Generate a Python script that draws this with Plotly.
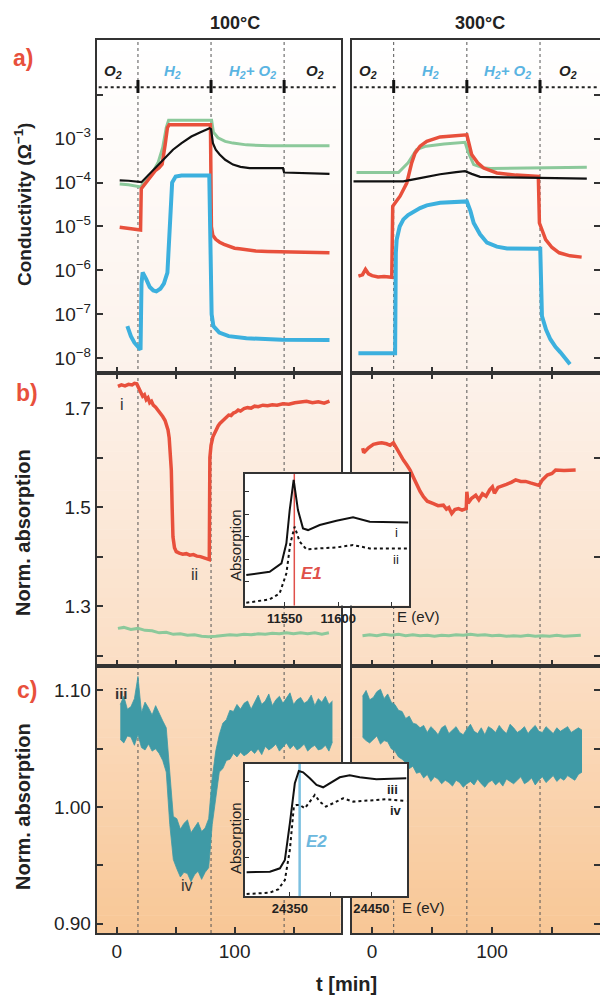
import plotly.graph_objects as go

W, H = 600, 996
FONT = "Liberation Sans, Arial, sans-serif"

# ======================= DATA =======================
phase_t_100 = [18, 80, 142]
phase_t_300 = [18, 79, 140]
phase_labels = ["O<sub>2</sub>", "H<sub>2</sub>", "H<sub>2</sub>+ O<sub>2</sub>", "O<sub>2</sub>"]
phase_label_t_100 = [-3.4, 47.5, 115, 168]
phase_label_t_300 = [-3.3, 49, 113, 163]

# ---- a) conductivity, 100 C ----
a100_black_t = [2.5, 10, 21, 27, 33.6, 40, 47.7, 55, 63.3, 71, 78.8, 80, 81.6, 84, 87.3, 92, 98.6, 105,
                112.7, 130, 141, 142, 160, 180.5]
a100_black = [1.12e-4, 1.10e-4, 1.02e-4, 1.51e-4, 2.34e-4, 3.55e-4, 5.62e-4, 7.94e-4, 1.12e-3, 1.41e-3,
              1.74e-3, 1.66e-3, 7.94e-4, 5.62e-4, 4.37e-4, 3.31e-4, 2.57e-4, 2.29e-4, 2.14e-4, 2.14e-4,
              2.14e-4, 1.70e-4, 1.66e-4, 1.58e-4]
a100_green_t = [2.5, 10, 20.2, 25, 30, 35, 39, 42, 44, 60, 80.5, 82, 85.9, 92, 98.6, 110, 130, 160, 180.5]
a100_green = [9.33e-5, 8.91e-5, 7.94e-5, 1.12e-4, 1.66e-4, 2.82e-4, 6.31e-4, 1.78e-3, 2.63e-3, 2.63e-3,
              2.63e-3, 1.41e-3, 1.05e-3, 8.71e-4, 7.94e-4, 7.24e-4, 6.92e-4, 6.92e-4, 6.92e-4]
a100_red_t = [2.5, 10, 20.2, 20.8, 24, 28, 33, 36, 38.5, 41, 43, 44.5, 60, 79.5, 80.3, 81.5, 84, 87.3, 91,
              95, 100, 104, 110, 118, 128, 140, 150, 160, 170, 180.5]
a100_red = [9.55e-6, 9.12e-6, 8.32e-6, 7.24e-5, 9.33e-5, 1.26e-4, 1.91e-4, 2.19e-4, 2.63e-4, 7.08e-4,
            1.78e-3, 2.09e-3, 2.09e-3, 2.09e-3, 1.0e-5, 6.31e-6, 5.1e-6, 4.37e-6, 3.9e-6, 3.55e-6,
            3.2e-6, 3.09e-6, 2.9e-6, 2.75e-6, 2.7e-6, 2.63e-6, 2.6e-6, 2.57e-6, 2.55e-6, 2.51e-6]
a100_blue_t = [9, 12, 15, 18, 20.2, 21, 22, 25, 28, 31, 33.6, 37, 40, 43, 44.5, 45.5, 47, 50, 55, 78.5,
               79.5, 80.5, 82, 87, 95, 110, 140, 180.5]
a100_blue = [5.37e-8, 3.16e-8, 2.24e-8, 1.78e-8, 1.55e-8, 5.01e-7, 8.91e-7, 6.31e-7, 4.17e-7, 3.47e-7,
             3.31e-7, 3.80e-7, 5.01e-7, 8.91e-7, 6.31e-6, 4.07e-5, 1.0e-4, 1.38e-4, 1.45e-4, 1.45e-4,
             3.16e-6, 1.0e-7, 5.37e-8, 3.80e-8, 3.16e-8, 2.82e-8, 2.63e-8, 2.57e-8]

# ---- a) conductivity, 300 C ----
a300_black_t = [-15.5, 0, 26, 40, 56.7, 70, 77.5, 83, 90, 110, 140, 179]
a300_black = [1.07e-4, 1.07e-4, 1.07e-4, 1.26e-4, 1.55e-4, 1.74e-4, 1.82e-4, 1.58e-4, 1.35e-4, 1.32e-4,
              1.29e-4, 1.23e-4]
a300_green_t = [-13, 22, 30, 37, 45, 60, 77.5, 80, 84.7, 92, 98.6, 120, 150, 179]
a300_green = [1.70e-4, 1.70e-4, 2.82e-4, 5.62e-4, 6.76e-4, 7.59e-4, 8.32e-4, 5.01e-4, 2.57e-4, 2.19e-4,
              2.09e-4, 2.14e-4, 2.19e-4, 2.24e-4]
a300_red_t = [-11.4, -8, -5.5, -3, 0, 5, 10, 16.4, 17.2, 19.2, 23.3, 28.9, 33, 35.8, 40, 45.6, 56.7, 79,
              83, 88, 93, 104, 120, 138.6, 139.5, 144.7, 150, 156, 165, 174.7]
a300_red = [7.41e-7, 7.94e-7, 1.05e-6, 8.32e-7, 7.59e-7, 7.08e-7, 7.24e-7, 6.92e-7, 2.88e-5, 3.47e-5,
            4.90e-5, 9.77e-5, 2.82e-4, 4.68e-4, 6.76e-4, 8.71e-4, 1.10e-3, 1.23e-3, 4.37e-4, 2.82e-4,
            2.14e-4, 1.66e-4, 1.48e-4, 1.38e-4, 1.20e-5, 5.01e-6, 3.31e-6, 2.51e-6, 2.14e-6, 2.0e-6]
a300_blue_t = [-11.4, 19.2, 19.8, 20.5, 23, 26.1, 30, 34.4, 40, 45.6, 56.7, 79, 82, 84.7, 90, 95.8, 104,
               112.5, 140.2, 141.6, 145, 148.6, 153, 157, 165]
a300_blue = [1.29e-8, 1.29e-8, 2.51e-6, 5.01e-6, 1.0e-5, 1.45e-5, 1.82e-5, 2.19e-5, 2.63e-5, 3.02e-5,
             3.47e-5, 3.72e-5, 2.24e-5, 1.20e-5, 6.61e-6, 4.27e-6, 3.47e-6, 3.16e-6, 3.09e-6, 9.12e-8,
             4.47e-8, 2.69e-8, 1.78e-8, 1.35e-8, 7.24e-9]

# ---- b) norm. absorption (E1), 100 C ----
b100_red_t = [1, 4, 7, 10, 13, 15, 17, 19, 20.5, 22, 23.5, 25, 26.5, 28, 29.5, 31, 33, 35, 37, 39, 41, 42.5,
              43.5, 44.5, 45.5, 46.3, 47, 47.7, 49, 50.5, 53, 56, 59, 62, 65, 68, 71, 74, 76.5, 78.5, 79,
              80, 81.6, 83, 84.5, 86, 87.5, 89, 91, 93, 95, 97, 99, 101, 103, 105, 108, 111, 114, 117,
              120, 124, 128, 132, 136, 141, 146, 151, 156, 161, 166, 171, 176, 180.5]
b100_red = [1.744, 1.747, 1.745, 1.748, 1.747, 1.750, 1.749, 1.738, 1.731, 1.724, 1.727, 1.717, 1.721,
            1.711, 1.714, 1.706, 1.702, 1.696, 1.691, 1.683, 1.675, 1.664, 1.656, 1.640, 1.612, 1.575,
            1.500, 1.440, 1.418, 1.410, 1.407, 1.405, 1.406, 1.403, 1.404, 1.401, 1.400, 1.398, 1.397,
            1.394, 1.600, 1.625, 1.642, 1.650, 1.659, 1.664, 1.669, 1.672, 1.678, 1.680, 1.686, 1.685,
            1.690, 1.692, 1.696, 1.694, 1.699, 1.701, 1.700, 1.704, 1.703, 1.706, 1.705, 1.707, 1.706,
            1.709, 1.708, 1.711, 1.713, 1.714, 1.711, 1.713, 1.710, 1.714]
b100_green_t = [1, 6, 12, 18, 24, 30, 36, 42, 48, 54, 60, 66, 72, 78, 84, 90, 96, 102, 108, 114, 120, 126,
                132, 138, 144, 150, 156, 162, 168, 174, 180]
b100_green = [1.255, 1.257, 1.253, 1.255, 1.251, 1.250, 1.246, 1.247, 1.243, 1.244, 1.241, 1.242, 1.239,
              1.238, 1.239, 1.240, 1.242, 1.241, 1.243, 1.242, 1.244, 1.243, 1.245, 1.244, 1.246, 1.244,
              1.246, 1.244, 1.246, 1.243, 1.246]

# ---- b) norm. absorption (E1), 300 C ----
b300_red_t = [-7.8, -7, -3, 1.1, 5, 8, 12, 15, 17.8, 20, 23, 26.1, 29, 31.7, 34.5, 37.2, 40, 42.8, 46,
              51.1, 55, 59.4, 62, 64, 66.4, 69, 72, 75, 77.5, 78.5, 79, 80, 83, 86.4, 89, 92, 95, 98,
              100.3, 102, 105, 108.6, 112, 116, 119.7, 124, 128, 132, 136, 139.2, 142, 146.1, 150, 153,
              160, 165, 169.7]
b300_red = [1.619, 1.610, 1.620, 1.627, 1.629, 1.630, 1.628, 1.625, 1.630, 1.620, 1.607, 1.595, 1.585,
            1.575, 1.560, 1.544, 1.532, 1.521, 1.512, 1.507, 1.503, 1.504, 1.496, 1.499, 1.487, 1.495,
            1.497, 1.494, 1.497, 1.497, 1.531, 1.508, 1.518, 1.524, 1.515, 1.527, 1.522, 1.535, 1.541,
            1.528, 1.540, 1.544, 1.546, 1.550, 1.555, 1.552, 1.552, 1.549, 1.547, 1.544, 1.555, 1.565,
            1.568, 1.575, 1.574, 1.575, 1.575]
b300_green_t = [-8, -2, 4, 10, 16, 22, 28, 34, 40, 46, 52, 58, 64, 70, 76, 82, 88, 94, 100, 106, 112, 118,
                124, 130, 136, 142, 148, 154, 160, 166, 172, 174]
b300_green = [1.240, 1.242, 1.240, 1.243, 1.241, 1.243, 1.240, 1.242, 1.240, 1.241, 1.239, 1.241, 1.240,
              1.242, 1.241, 1.243, 1.241, 1.242, 1.240, 1.241, 1.239, 1.240, 1.239, 1.241, 1.239, 1.240,
              1.239, 1.241, 1.239, 1.240, 1.242, 1.241]

# ---- c) norm. absorption (E2): noisy band, upper / lower envelope ----
c100_t = [3, 6, 9, 12, 15, 18, 21, 24, 27, 30, 33, 36, 39, 42, 45, 48, 51, 54, 57, 60, 63, 66, 69, 72, 75,
          78, 81, 84, 87, 90, 93, 96, 99, 102, 105, 108, 111, 114, 117, 120, 123, 126, 129, 132, 135, 138,
          141, 144, 147, 150, 153, 156, 159, 162, 165, 168, 171, 174, 177, 180, 183]
c100_hi = [1.088, 1.095, 1.084, 1.086, 1.093, 1.112, 1.081, 1.090, 1.085, 1.079, 1.087, 1.080, 1.074,
           1.068, 1.030, 0.992, 0.990, 0.981, 0.986, 0.989, 0.978, 0.983, 0.987, 0.979, 0.982, 0.990,
           1.025, 1.048, 1.062, 1.072, 1.075, 1.083, 1.082, 1.088, 1.084, 1.089, 1.091, 1.084, 1.090,
           1.096, 1.088, 1.091, 1.097, 1.087, 1.092, 1.095, 1.089, 1.093, 1.098, 1.088, 1.092, 1.094,
           1.089, 1.091, 1.096, 1.087, 1.093, 1.090, 1.095, 1.088, 1.091]
c100_lo = [1.058, 1.055, 1.061, 1.060, 1.053, 1.062, 1.051, 1.049, 1.054, 1.048, 1.050, 1.046, 1.040,
           1.030, 0.985, 0.955, 0.947, 0.940, 0.944, 0.943, 0.936, 0.942, 0.945, 0.938, 0.944, 0.948,
           0.985, 1.010, 1.030, 1.033, 1.040, 1.041, 1.046, 1.043, 1.047, 1.044, 1.046, 1.049, 1.046,
           1.050, 1.045, 1.052, 1.049, 1.051, 1.054, 1.048, 1.052, 1.055, 1.050, 1.053, 1.049, 1.051,
           1.054, 1.048, 1.051, 1.053, 1.049, 1.050, 1.053, 1.048, 1.056]
c300_t = [-8, -5, -2, 1, 4, 7, 10, 13, 16, 19, 22, 25, 28, 31, 34, 37, 40, 43, 46, 49, 52, 55, 58, 61, 64,
          67, 70, 73, 76, 79, 82, 85, 88, 91, 94, 97, 100, 103, 106, 109, 112, 115, 118, 121, 124, 127,
          130, 133, 136, 139, 142, 145, 148, 151, 154, 157, 160, 163, 166, 169, 172, 175]
c300_hi = [1.095, 1.100, 1.092, 1.094, 1.099, 1.101, 1.093, 1.097, 1.090, 1.088, 1.083, 1.082, 1.076,
           1.078, 1.072, 1.071, 1.068, 1.070, 1.064, 1.069, 1.066, 1.062, 1.068, 1.070, 1.063, 1.066,
           1.069, 1.064, 1.062, 1.067, 1.071, 1.065, 1.063, 1.068, 1.062, 1.069, 1.067, 1.064, 1.070,
           1.066, 1.063, 1.071, 1.068, 1.064, 1.066, 1.069, 1.063, 1.067, 1.070, 1.065, 1.064, 1.069,
           1.066, 1.063, 1.068, 1.065, 1.067, 1.069, 1.064, 1.066, 1.068, 1.066]
c300_lo = [1.060, 1.057, 1.055, 1.058, 1.061, 1.054, 1.057, 1.056, 1.050, 1.048, 1.043, 1.041, 1.038,
           1.033, 1.035, 1.029, 1.030, 1.025, 1.028, 1.022, 1.026, 1.024, 1.020, 1.023, 1.021, 1.018,
           1.023, 1.021, 1.017, 1.020, 1.022, 1.019, 1.024, 1.020, 1.017, 1.021, 1.023, 1.019, 1.022,
           1.018, 1.024, 1.022, 1.020, 1.023, 1.026, 1.020, 1.022, 1.025, 1.019, 1.023, 1.026, 1.021,
           1.024, 1.027, 1.022, 1.025, 1.023, 1.027, 1.025, 1.023, 1.028, 1.030]

# ---- inset 1: XANES at E1 edge ----
E1 = 11559
ins1_i_E = [11514.2, 11536, 11547, 11551.6, 11554.7, 11558.4, 11562.4, 11567.1, 11571.8, 11582.7,
            11598.3, 11613.8, 11629.4, 11665.3]
ins1_i = [0.259, 0.289, 0.363, 0.541, 0.837, 1.104, 0.837, 0.674, 0.659, 0.704, 0.742, 0.772, 0.733, 0.727]
ins1_ii_E = [11514.2, 11536, 11545.3, 11551.6, 11555.3, 11559.3, 11564, 11570.3, 11582.7, 11598.3,
             11613.8, 11629.4, 11665.3]
ins1_ii = [0.013, 0.043, 0.096, 0.274, 0.541, 0.689, 0.556, 0.487, 0.496, 0.505, 0.526, 0.496, 0.496]

# ---- inset 2: XANES at E2 edge ----
E2 = 24362
ins2_iii_E = [24297.0, 24325.5, 24337.8, 24343.9, 24350, 24356.1, 24361, 24366.3, 24374.5, 24382.7,
              24390.8, 24399, 24411.2, 24423.4, 24435.7, 24456.1, 24492.8]
ins2_iii = [0.302, 0.311, 0.355, 0.465, 0.949, 1.478, 1.641, 1.623, 1.544, 1.456, 1.425, 1.478, 1.557,
            1.584, 1.557, 1.531, 1.544]
ins2_iv_E = [24297.0, 24325.5, 24335.7, 24343.9, 24350, 24354.9, 24358.2, 24362.2, 24368.4, 24374.5,
             24380.6, 24386.7, 24394.1, 24403, 24415.3, 24427.5, 24447.9, 24468.4, 24492.8]
ins2_iv = [0.015, 0.033, 0.077, 0.200, 0.597, 1.170, 1.192, 1.192, 1.148, 1.236, 1.324, 1.236, 1.170,
           1.214, 1.280, 1.236, 1.249, 1.267, 1.244]

# ======================= LAYOUT HELPERS =======================
def px(x):
    return x / W


def py(y):
    return 1 - y / H


COL_L = (96.7, 340.7)
COL_R = (351.7, 600)
ROW_A = (40, 373)
ROW_B = (373, 666)
ROW_C = (666, 933)
INS1 = (245, 409, 474, 605.7)
INS2 = (245, 407.3, 764, 896)

T_RANGE = [-17, 190]
A_RANGE = [-8.34, -0.75]
B_RANGE = [1.179, 1.771]
C_RANGE = [0.892, 1.121]
I1_X = [11513, 11666]
I1_Y = [-0.013, 1.157]
I2_X = [24295, 24494]
I2_Y = [-0.011, 1.733]

RED = "#e8503c"
GREEN = "#8cc99b"
BLUE = "#3cb0de"
BLACK = "#111111"
TEAL = "#3f9aa6"
FRAME = "#333333"
TXT = "#222222"

fig = go.Figure()


def line(x, y, xa, ya, color, width, dash=None):
    fig.add_trace(go.Scatter(x=x, y=y, xaxis=xa, yaxis=ya, mode="lines",
                             line=dict(color=color, width=width, dash=dash), hoverinfo="skip"))


# panel a
line(a100_green_t, a100_green, "x", "y", GREEN, 3)
line(a100_red_t, a100_red, "x", "y", RED, 3.5)
line(a100_blue_t, a100_blue, "x", "y", BLUE, 4)
line(a100_black_t, a100_black, "x", "y", BLACK, 2.2)
line(a300_green_t, a300_green, "x2", "y2", GREEN, 3)
line(a300_red_t, a300_red, "x2", "y2", RED, 3.5)
line(a300_blue_t, a300_blue, "x2", "y2", BLUE, 4)
line(a300_black_t, a300_black, "x2", "y2", BLACK, 2.2)
# panel b
line(b100_red_t, b100_red, "x3", "y3", RED, 3.5)
line(b100_green_t, b100_green, "x3", "y3", GREEN, 3)
line(b300_red_t, b300_red, "x4", "y4", RED, 3.5)
line(b300_green_t, b300_green, "x4", "y4", GREEN, 3)
# panel c bands
for t, hi, lo, xa, ya in [(c100_t, c100_hi, c100_lo, "x5", "y5"), (c300_t, c300_hi, c300_lo, "x6", "y6")]:
    fig.add_trace(go.Scatter(x=t, y=hi, xaxis=xa, yaxis=ya, mode="lines",
                             line=dict(color=TEAL, width=0.8), hoverinfo="skip"))
    fig.add_trace(go.Scatter(x=t, y=lo, xaxis=xa, yaxis=ya, mode="lines", fill="tonexty",
                             fillcolor=TEAL, line=dict(color=TEAL, width=0.8), hoverinfo="skip"))
# insets
line(ins1_i_E, ins1_i, "x7", "y7", BLACK, 2)
line(ins1_ii_E, ins1_ii, "x7", "y7", BLACK, 2, "dot")
line(ins2_iii_E, ins2_iii, "x8", "y8", BLACK, 2)
line(ins2_iv_E, ins2_iv, "x8", "y8", BLACK, 2, "dot")

# ---------------- axes ----------------
base = dict(showline=True, linecolor=FRAME, linewidth=2, showgrid=False, zeroline=False,
            ticks="inside", ticklen=6, tickwidth=1.5, tickcolor=FRAME,
            tickfont=dict(family=FONT, size=19, color=TXT))


def xax(col, anchor, labels, mirror=True):
    d = dict(base)
    d.update(domain=[px(col[0]), px(col[1])], anchor=anchor, range=T_RANGE,
             tickvals=[0, 50, 100, 150], ticktext=["0", "", "100", ""],
             showticklabels=labels, mirror=mirror)
    return d


def yax(row, anchor, rng, vals, text, right, typ="linear"):
    d = dict(base)
    d.update(domain=[py(row[1]), py(row[0])], anchor=anchor, range=rng, type=typ,
             tickvals=vals, mirror=True, side="right" if right else "left",
             showticklabels=not right)
    if text is not None:
        d["ticktext"] = text
    return d


a_vals = [1e-8, 1e-7, 1e-6, 1e-5, 1e-4, 1e-3, 1e-2]
a_text = ["10<sup>\u22128</sup>", "10<sup>\u22127</sup>", "10<sup>\u22126</sup>", "10<sup>\u22125</sup>",
          "10<sup>\u22124</sup>", "10<sup>\u22123</sup>", ""]
b_vals = [1.2, 1.3, 1.4, 1.5, 1.6, 1.7]
b_text = ["", "1.3", "", "1.5", "", "1.7"]
c_vals = [0.90, 0.95, 1.00, 1.05, 1.10]
c_text = ["0.90", "", "1.00", "", "1.10"]

layout_axes = dict(
    xaxis=xax(COL_L, "y", False),
    yaxis=yax(ROW_A, "x", A_RANGE, a_vals, a_text, False, "log"),
    xaxis2=xax(COL_R, "y2", False),
    yaxis2=yax(ROW_A, "x2", A_RANGE, a_vals, None, True, "log"),
    xaxis3=xax(COL_L, "y3", False, "ticks"),
    yaxis3=yax(ROW_B, "x3", B_RANGE, b_vals, b_text, False),
    xaxis4=xax(COL_R, "y4", False, "ticks"),
    yaxis4=yax(ROW_B, "x4", B_RANGE, [1.2, 1.4, 1.6], None, True),
    xaxis5=xax(COL_L, "y5", True),
    yaxis5=yax(ROW_C, "x5", C_RANGE, c_vals, c_text, False),
    xaxis6=xax(COL_R, "y6", True),
    yaxis6=yax(ROW_C, "x6", C_RANGE, c_vals, None, True),
)

ins_base = dict(showline=True, linecolor=FRAME, linewidth=1.5, mirror=True, showgrid=False, zeroline=False,
                ticks="inside", ticklen=4, tickwidth=1, tickcolor=FRAME,
                tickfont=dict(family=FONT, size=13, color=TXT, weight="bold"))
layout_axes["xaxis7"] = dict(ins_base, domain=[px(INS1[0]), px(INS1[1])], anchor="y7", range=I1_X,
                             tickvals=[11550, 11600, 11650], ticktext=["11550", "11600", ""])
layout_axes["yaxis7"] = dict(ins_base, domain=[py(INS1[3]), py(INS1[2])], anchor="x7", range=I1_Y,
                             tickvals=[0.2, 0.4, 0.6, 0.8, 1.0], showticklabels=False)
layout_axes["xaxis8"] = dict(ins_base, domain=[px(INS2[0]), px(INS2[1])], anchor="y8", range=I2_X,
                             tickvals=[24350, 24400, 24450], ticktext=["24350", "", "24450"])
layout_axes["yaxis8"] = dict(ins_base, domain=[py(INS2[3]), py(INS2[2])], anchor="x8", range=I2_Y,
                             tickvals=[0.5, 1.0, 1.5], showticklabels=False)

# ---------------- shapes ----------------
shapes = []
stops = [(40, (255, 255, 255)), (373, (252, 242, 235)), (666, (251, 222, 196)), (933, (248, 199, 150))]


def grad(y):
    for (y0, c0), (y1, c1) in zip(stops[:-1], stops[1:]):
        if y <= y1:
            f = max(0.0, (y - y0) / (y1 - y0))
            return "rgb(%d,%d,%d)" % tuple(round(a + (b - a) * f) for a, b in zip(c0, c1))
    return "rgb(%d,%d,%d)" % stops[-1][1]


NB = 30
for row in (ROW_A, ROW_B, ROW_C):
    for col in (COL_L, COL_R):
        for k in range(NB):
            y0 = row[0] + (row[1] - row[0]) * k / NB
            y1 = row[0] + (row[1] - row[0]) * (k + 1) / NB
            shapes.append(dict(type="rect", xref="paper", yref="paper", x0=px(col[0]), x1=px(col[1]),
                               y0=py(y1 + 0.6), y1=py(y0), fillcolor=grad((y0 + y1) / 2),
                               line=dict(width=0), layer="below"))

# phase boundary lines
for xa, bounds in (("x", phase_t_100), ("x2", phase_t_300)):
    for t in bounds:
        shapes.append(dict(type="line", xref=xa, yref="paper", x0=t, x1=t, y0=py(ROW_C[1]), y1=py(ROW_A[0]),
                           line=dict(color="#555555", width=1, dash="dot"), layer="below"))
        shapes.append(dict(type="line", xref=xa, yref="paper", x0=t, x1=t, y0=py(93), y1=py(80),
                           line=dict(color="#111111", width=3), layer="below"))
# horizontal dotted line in panel a
for col in (COL_L, COL_R):
    shapes.append(dict(type="line", xref="paper", yref="paper", x0=px(col[0] + 2), x1=px(col[1] - 2),
                       y0=py(87.3), y1=py(87.3), line=dict(color="#222222", width=2, dash="dot"),
                       layer="below"))

# inset backgrounds and edge markers
shapes.append(dict(type="rect", xref="x7", yref="y7", x0=I1_X[0], x1=I1_X[1], y0=I1_Y[0], y1=I1_Y[1],
                   fillcolor="white", line=dict(width=0), layer="below"))
shapes.append(dict(type="line", xref="x7", yref="y7", x0=E1, x1=E1, y0=I1_Y[0], y1=I1_Y[1],
                   line=dict(color="#e0504a", width=1.5), layer="below"))
shapes.append(dict(type="rect", xref="x8", yref="y8", x0=I2_X[0], x1=I2_X[1], y0=I2_Y[0], y1=I2_Y[1],
                   fillcolor="white", line=dict(width=0), layer="below"))
shapes.append(dict(type="line", xref="x8", yref="y8", x0=E2, x1=E2, y0=I2_Y[0], y1=I2_Y[1],
                   line=dict(color="#7cc0e0", width=2.5), layer="below"))

# ---------------- annotations ----------------
ann = []


def text(x, y, s, size=16, color=TXT, angle=0, xanchor="center", yanchor="middle", xref="paper",
         yref="paper", bold=False, italic=False):
    if italic:
        s = "<i>" + s + "</i>"
    if bold:
        s = "<b>" + s + "</b>"
    ann.append(dict(x=x, y=y, xref=xref, yref=yref, text=s, showarrow=False, textangle=angle,
                    xanchor=xanchor, yanchor=yanchor, font=dict(family=FONT, size=size, color=color)))


text(px(235), py(23), "100°C", 18, bold=True)
text(px(480), py(23), "300°C", 18, bold=True)
text(px(23), py(58), "a)", 23, RED, bold=True)
text(px(27), py(393), "b)", 23, RED, bold=True)
text(px(27), py(690), "c)", 23, RED, bold=True)
text(px(23), py(205), "Conductivity (Ω<sup>\u22121</sup>)", 19, angle=-90, bold=True)
text(px(23), py(533), "Norm. absorption", 20, angle=-90, bold=True)
text(px(23), py(807), "Norm. absorption", 20, angle=-90, bold=True)
text(px(346), py(984), "t [min]", 20, bold=True)

H2_COLOR = "#5ab4e2"
for xa, lab_t in (("x", phase_label_t_100), ("x2", phase_label_t_300)):
    for i, (t, lab) in enumerate(zip(lab_t, phase_labels)):
        col = TXT if i in (0, 3) else H2_COLOR
        text(t, py(71.5), lab, 15, col, xref=xa, bold=True, italic=True)

text(px(121.7), py(405), "i", 16, "#333333")
text(px(194.3), py(574), "ii", 16, "#333333")
text(px(121.7), py(693), "iii", 15, "#333333", bold=True)
text(px(186.7), py(885), "iv", 16, "#333333")

# insets labels
text(px(235), py(545), "Absorption", 15, angle=-90)
text(px(235), py(838), "Absorption", 15, angle=-90)
text(px(418), py(616), "E (eV)", 15)
text(px(423), py(907), "E (eV)", 15)
text(11654, 0.633, "i", 13, xref="x7", yref="y7")
text(11654, 0.401, "ii", 13, xref="x7", yref="y7")
text(11575, 0.277, "E1", 17, "#e0504a", xref="x7", yref="y7", bold=True, italic=True)
text(24476, 1.39, "iii", 13, xref="x8", yref="y8", bold=True)
text(24480, 1.117, "iv", 13, xref="x8", yref="y8", bold=True)
text(24383, 0.707, "E2", 17, "#6cb8de", xref="x8", yref="y8", bold=True, italic=True)

fig.update_layout(
    width=W, height=H, margin=dict(l=0, r=0, t=0, b=0),
    paper_bgcolor="white", plot_bgcolor="rgba(0,0,0,0)",
    showlegend=False, shapes=shapes, annotations=ann,
    font=dict(family=FONT, color=TXT),
    **layout_axes,
)

fig.write_html("out.html", config={"displayModeBar": False})
